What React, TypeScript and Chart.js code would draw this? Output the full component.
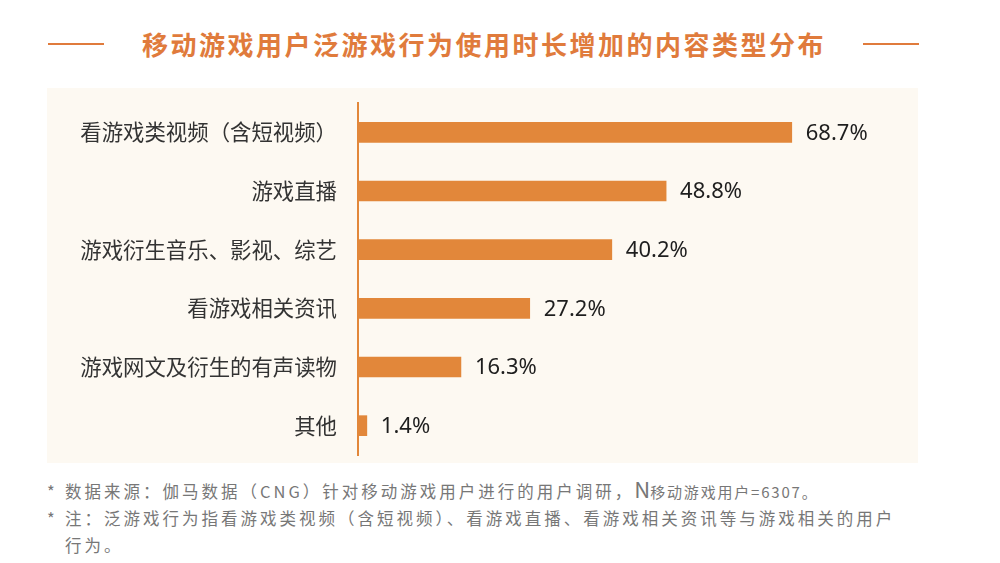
import React, { useEffect, useRef } from "react";
import { Chart, registerables } from "chart.js";

Chart.register(...registerables);

const title = "移动游戏用户泛游戏行为使用时长增加的内容类型分布";
const categories = [
  "看游戏类视频（含短视频）",
  "游戏直播",
  "游戏衍生音乐、影视、综艺",
  "看游戏相关资讯",
  "游戏网文及衍生的有声读物",
  "其他",
];
const values = [68.7, 48.8, 40.2, 27.2, 16.3, 1.4];
const footnotes = [
  "数据来源：伽马数据（CNG）针对移动游戏用户进行的用户调研，",
  "注：泛游戏行为指看游戏类视频（含短视频）、看游戏直播、看游戏相关资讯等与游戏相关的用户",
  "行为。",
];

const ORANGE = "#E2873A";
const TITLE_ORANGE = "#E07B3C";

const valueLabelPlugin = {
  id: "valueLabels",
  afterDatasetsDraw(chart: any) {
    const ctx = chart.ctx;
    const meta = chart.getDatasetMeta(0);
    ctx.save();
    ctx.font = '22px "Noto Sans", sans-serif';
    ctx.fillStyle = "#1e1e1e";
    ctx.textAlign = "left";
    ctx.textBaseline = "middle";
    meta.data.forEach((bar: any, i: number) => {
      ctx.fillText(values[i].toFixed(1) + "%", bar.x + 14, bar.y + 1);
    });
    ctx.restore();
  },
};

export default function App() {
  const ref = useRef<HTMLCanvasElement>(null);
  useEffect(() => {
    if (!ref.current) return;
    const chart = new Chart(ref.current, {
      type: "bar",
      data: {
        labels: categories,
        datasets: [
          {
            data: values,
            backgroundColor: ORANGE,
            barThickness: 20,
          },
        ],
      },
      options: {
        indexAxis: "y",
        animation: false,
        responsive: false,
        layout: { padding: { top: 15, bottom: 8, left: 0, right: 99 } },
        plugins: { legend: { display: false }, tooltip: { enabled: false } },
        scales: {
          x: { display: false, min: 0, max: 86 },
          y: {
            afterFit(scale: any) {
              scale.width = 358;
              scale.paddingTop = 0;
              scale.paddingBottom = 0;
            },
            grid: { display: false, drawTicks: false },
            border: { display: true, color: ORANGE, width: 2 },
            ticks: {
              padding: 21,
              color: "#333",
              font: { family: '"Noto Sans CJK SC"', size: 21.4 },
            },
          },
        },
      },
      plugins: [valueLabelPlugin],
    });
    return () => chart.destroy();
  }, []);

  const lineStyle = (left: number): React.CSSProperties => ({
    position: "absolute",
    left,
    top: 43,
    width: 56,
    height: 2,
    background: TITLE_ORANGE,
  });

  return (
    <div
      style={{
        position: "fixed",
        left: 0,
        top: 0,
        width: 1000,
        height: 563,
        background: "#fff",
        overflow: "hidden",
        fontFamily: '"Noto Sans CJK SC", sans-serif',
      }}
    >
      <div style={lineStyle(48)} />
      <div style={lineStyle(863)} />
      <div
        style={{
          position: "absolute",
          left: 0,
          width: 968,
          top: 26,
          textAlign: "center",
          fontSize: 26,
          lineHeight: "36px",
          letterSpacing: 2.5,
          fontWeight: 700,
          color: TITLE_ORANGE,
          whiteSpace: "nowrap",
        }}
      >
        {title}
      </div>
      <div
        style={{
          position: "absolute",
          left: 47,
          top: 88,
          width: 871,
          height: 375,
          background: "#FDF9F2",
        }}
      />
      <canvas
        ref={ref}
        width={1000}
        height={375}
        style={{ position: "absolute", left: 0, top: 88, width: 1000, height: 375 }}
      />
      <div
        style={{
          position: "absolute",
          left: 47,
          top: 475,
          color: "#777",
          fontSize: 16.5,
          lineHeight: "27px",
          letterSpacing: 3,
          whiteSpace: "nowrap",
        }}
      >
        <div>
          <span style={{ display: "inline-block", width: 18 }}>*</span>
          {footnotes[0]}
          <span style={{ fontSize: 22, letterSpacing: 0 }}>N</span>
          <span style={{ fontSize: 15, letterSpacing: 1.8 }}>移动游戏用户=6307。</span>
        </div>
        <div>
          <span style={{ display: "inline-block", width: 18 }}>*</span>
          {footnotes[1]}
        </div>
        <div style={{ paddingLeft: 18 }}>{footnotes[2]}</div>
      </div>
    </div>
  );
}
